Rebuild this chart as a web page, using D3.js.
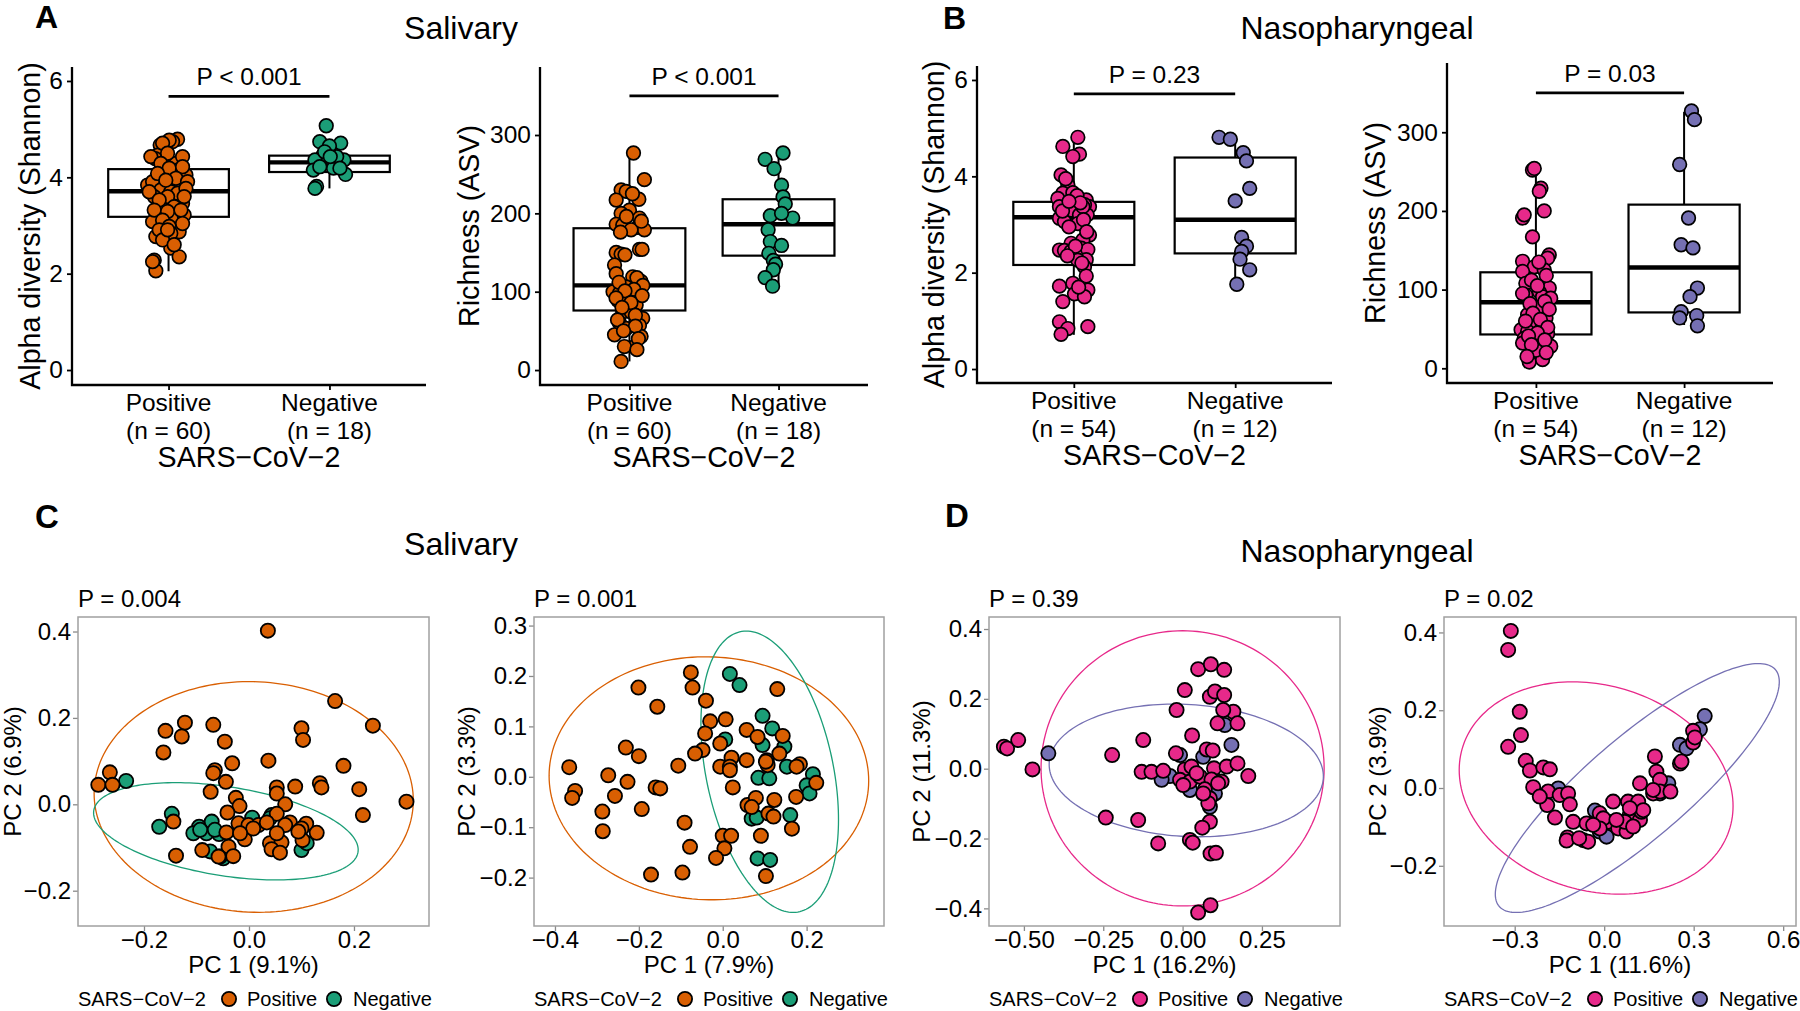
<!DOCTYPE html>
<html><head><meta charset="utf-8">
<script src="https://cdn.jsdelivr.net/npm/d3@7"></script>
<style>body{margin:0;background:#fff}svg{display:block}</style>
</head><body><svg id="c" width="1800" height="1011"></svg>
<script>
// ---------------- DATA ----------------
const groups = ["Positive", "Negative"];
const salN = ["(n = 60)", "(n = 18)"];
const nasN = ["(n = 54)", "(n = 12)"];
const ORANGE = "#D95F02", GREEN = "#1B9E77", PINK = "#E7298A", PURPLE = "#7570B3";

// box stats [lower whisker, Q1, median, Q3, upper whisker]
const salShanStats = [[2.05, 3.18, 3.71, 4.17, 4.79], [3.77, 4.11, 4.31, 4.45, 4.71]];
const salRichStats = [[11, 76, 108, 181, 277], [107, 146, 186, 218, 277]];
const nasShanStats = [[0.71, 2.16, 3.15, 3.47, 4.82], [1.78, 2.40, 3.10, 4.39, 4.82]];
const nasRichStats = [[8, 43, 84, 122, 252], [55, 71, 128, 208, 326]];

const boxPLabels = ["P < 0.001", "P < 0.001", "P = 0.23", "P = 0.03"];
const sigBarY = [5.68, 350, 5.71, 350];

// jittered points [value, horizontal jitter (category units)]
const salShanPos = [[4.79,.056],[4.74,.025],[4.67,-.052],[4.59,-.021],[4.46,-.068],[4.39,-.083],[4.29,.046],[4.15,.056],[4.05,.108],[3.84,-.13],[3.91,-.099],[3.74,-.048],[3.81,.077],[3.70,.014],[3.60,-.089],[3.46,.087],[3.45,-.027],[3.56,.035],[3.18,-.068],[3.15,.025],[3.22,.097],[3.08,-.099],[2.87,.066],[2.77,-.079],[2.73,-.027],[2.53,.014],[2.35,.066],[2.28,-.089],[2.06,-.079],[4.77,.004],[4.71,-.037],[4.50,-.006],[4.43,.087],[4.43,-.11],[4.29,-.048],[4.19,.004],[4.22,.087],[4.08,-.068],[3.98,.046],[3.94,-.017],[3.91,.118],[3.70,-.12],[3.67,.056],[3.77,.108],[3.60,-.006],[3.53,-.058],[3.60,.097],[3.39,.035],[3.32,-.089],[3.29,-.006],[3.32,.077],[3.11,-.037],[3.04,.087],[2.98,.004],[2.91,-.058],[2.84,.014],[2.70,-.037],[2.60,.035],[2.25,-.099],[2.91,-.006]];
const salShanNeg = [[5.07,-.02],[4.71,.07],[4.74,-.06],[4.65,0],[4.46,-.04],[4.36,-.09],[4.36,.09],[4.29,.025],[4.15,-.1],[4.19,.025],[4.06,.1],[4.22,-.06],[4.43,.045],[3.81,-.08],[3.77,-.09],[4.53,-.03],[4.19,.065],[4.43,.005]];
const salRichPos = [[277,.027],[243,.10],[230,-.056],[228,-.022],[217,-.089],[218,.063],[204,0],[200,-.056],[194,.067],[186,-.089],[185,-.045],[182,.056],[179,.10],[179,.011],[150,-.089],[148,-.056],[154,.067],[154,.085],[134,-.10],[123,-.089],[119,.022],[113,.078],[106,-.022],[100,-.11],[98,-.067],[98,.056],[89,-.078],[91,-.022],[83,.045],[74,-.045],[74,.011],[66,.089],[60,-.067],[57,.067],[53,-.022],[45,-.10],[43,.078],[30,.034],[30,-.034],[11,-.056],[225,.02],[196,-.02],[190,.08],[176,-.06],[147,-.03],[118,.05],[112,-.07],[108,.09],[103,.03],[101,-.03],[95,.085],[92,-.09],[86,.01],[80,-.05],[70,.04],[64,-.08],[56,.04],[50,-.04],[40,.06],[26,.05]];
const salRichNeg = [[269,-.09],[277,.03],[257,-.03],[236,.02],[221,.03],[212,.045],[197,-.055],[194,.095],[179,-.07],[164,-.055],[159,.02],[149,-.065],[140,-.035],[135,-.02],[128,-.035],[118,-.09],[107,-.04],[200,.02]];
const nasShanPos = [[4.81,.025],[4.62,-.068],[4.46,.035],[4.41,-.006],[4.03,-.079],[3.82,-.037],[3.65,-.068],[3.66,-.006],[3.54,-.099],[3.51,.077],[3.37,.097],[3.41,.066],[3.37,-.089],[3.30,-.017],[3.20,.035],[3.20,.083],[3.13,-.089],[3.06,-.058],[3.02,.025],[2.78,.097],[2.68,.056],[2.61,-.017],[2.47,-.089],[2.46,-.058],[2.44,-.017],[2.51,.046],[2.48,.087],[2.27,.077],[2.26,.025],[2.12,.066],[1.93,.077],[1.72,-.089],[1.78,-.006],[1.64,.087],[1.56,.004],[1.50,.066],[1.40,-.068],[0.98,-.089],[0.84,-.037],[0.88,.087],[0.72,-.079],[3.37,.056],[3.95,-.05],[3.60,.02],[3.45,.04],[3.28,-.07],[3.10,.06],[2.95,-.03],[2.85,.08],[2.55,.01],[2.35,-.04],[2.20,.05],[1.70,.03],[3.48,-.03]];
const nasShanNeg = [[4.81,-.1],[4.77,-.03],[4.49,.05],[4.32,.07],[3.75,.09],[3.49,0],[2.73,.04],[2.55,.07],[2.44,.04],[2.28,.03],[2.06,.09],[1.76,.01]];
const nasRichPos = [[252,-.023],[254,-.011],[229,.034],[225,.023],[200,.056],[191,-.09],[195,-.079],[167,-.023],[136,-.09],[144,.09],[140,.079],[129,-.011],[125,.056],[123,-.09],[108,-.068],[102,.09],[97,.023],[93,-.068],[91,.045],[89,.10],[78,.034],[68,-.056],[64,.068],[57,-.034],[54,.045],[49,-.10],[47,-.056],[44,.079],[38,-.079],[32,.034],[25,-.011],[28,.10],[8,-.045],[11,.045],[23,0],[32,-.09],[135,.02],[118,.07],[112,-.03],[105,.01],[95,-.09],[85,.06],[82,-.04],[75,.09],[70,-.02],[62,.03],[60,-.07],[52,.08],[45,.01],[41,-.05],[36,.06],[30,-.03],[20,.07],[15,-.06]];
const nasRichNeg = [[327,.05],[316,.07],[259,-.03],[191,.03],[157,-.02],[153,.06],[102,.09],[91,.04],[72,-.02],[67,.085],[64,-.03],[54,.09]];

// PCoA
const pcoaPLabels = ["P = 0.004", "P = 0.001", "P = 0.39", "P = 0.02"];
const pc1Labels = ["PC 1 (9.1%)", "PC 1 (7.9%)", "PC 1 (16.2%)", "PC 1 (11.6%)"];
const pc2Labels = ["PC 2 (6.9%)", "PC 2 (3.3%)", "PC 2 (11.3%)", "PC 2 (3.9%)"];

const salPcoaAPos = [[0.036,0.402],[0.164,0.239],[0.236,0.182],[-0.122,0.189],[-0.159,0.170],[-0.128,0.157],[-0.068,0.184],[-0.046,0.145],[0.100,0.176],[0.103,0.149],[-0.163,0.120],[0.037,0.101],[-0.032,0.095],[-0.065,0.079],[-0.068,0.072],[0.180,0.089],[-0.265,0.074],[-0.287,0.045],[-0.260,0.045],[-0.044,0.052],[0.135,0.049],[0.138,0.039],[0.088,0.041],[0.053,0.039],[0.053,0.025],[0.210,0.035],[-0.073,0.029],[0.300,0.006],[-0.025,0.015],[-0.018,-0.004],[0.069,0.000],[-0.041,-0.019],[0.217,-0.025],[-0.144,-0.040],[-0.139,-0.119],[0.053,-0.022],[-0.020,-0.044],[-0.001,-0.048],[0.018,-0.048],[0.034,-0.042],[0.078,-0.042],[0.109,-0.045],[0.100,-0.056],[0.129,-0.066],[-0.008,-0.081],[-0.039,-0.098],[-0.030,-0.120],[-0.058,-0.121],[-0.089,-0.106],[0.040,-0.090],[0.062,-0.088],[0.043,-0.104],[0.059,-0.112],[0.102,-0.083],[0.094,-0.063],[-0.043,-0.065],[0.008,-0.056],[0.069,-0.048],[-0.017,-0.067],[0.053,-0.067]];
const salPcoaANeg = [[-0.234,0.054],[-0.147,-0.022],[-0.171,-0.052],[-0.095,-0.052],[-0.106,-0.067],[-0.081,-0.067],[-0.071,-0.040],[-0.057,-0.069],[-0.074,-0.109],[-0.049,-0.125],[0.006,-0.031],[0.043,-0.025],[0.100,-0.106],[0.110,-0.090],[-0.093,-0.059],[-0.065,-0.059],[-0.055,-0.121],[0.040,-0.032]];
const salPcoaBPos = [[-0.076,0.207],[-0.072,0.177],[-0.201,0.177],[0.130,0.174],[-0.156,0.139],[-0.040,0.151],[-0.030,0.110],[0.007,0.114],[-0.042,0.086],[0.057,0.093],[0.083,0.079],[0.143,0.081],[-0.006,0.066],[-0.231,0.058],[-0.200,0.041],[-0.048,0.053],[-0.066,0.046],[0.021,0.038],[0.057,0.033],[0.135,0.046],[0.105,0.033],[0.107,0.023],[-0.106,0.022],[-0.006,0.020],[0.017,0.020],[0.184,0.025],[0.176,0.020],[-0.366,0.019],[-0.273,0.003],[-0.227,-0.010],[0.223,-0.012],[-0.352,-0.028],[-0.359,-0.042],[-0.257,-0.038],[-0.160,-0.021],[-0.149,-0.023],[0.024,-0.021],[-0.193,-0.064],[-0.287,-0.069],[-0.286,-0.108],[0.059,-0.056],[0.079,-0.042],[0.123,-0.046],[0.175,-0.040],[0.109,-0.073],[0.121,-0.079],[-0.091,-0.091],[0.165,-0.103],[0.091,-0.117],[0.000,-0.117],[0.020,-0.117],[-0.078,-0.139],[0.004,-0.142],[-0.016,-0.161],[-0.171,-0.194],[-0.096,-0.190],[0.103,-0.197],[0.103,0.030],[0.069,-0.060],[0.017,0.013]];
const salPcoaBNeg = [[0.017,0.204],[0.040,0.182],[0.095,0.121],[0.118,0.096],[0.006,0.074],[0.095,0.063],[0.147,0.060],[0.153,0.020],[0.215,0.005],[0.200,-0.017],[0.207,-0.033],[0.085,-0.002],[0.111,-0.003],[0.069,-0.083],[0.081,-0.081],[0.161,-0.076],[0.083,-0.162],[0.113,-0.165]];
const nasPcoaAPos = [[-0.563,0.063],[-0.553,0.058],[-0.518,0.082],[-0.473,-0.002],[-0.222,0.039],[-0.124,0.082],[-0.242,-0.140],[-0.140,-0.147],[-0.077,-0.214],[-0.019,0.168],[0.007,0.225],[0.049,0.285],[0.089,0.299],[0.131,0.283],[0.086,0.206],[0.102,0.221],[0.131,0.211],[0.160,0.163],[0.173,0.130],[0.110,0.130],[0.030,0.095],[-0.021,0.044],[0.076,0.055],[0.095,0.052],[-0.129,-0.009],[-0.098,-0.009],[-0.061,-0.006],[0.007,-0.002],[0.028,0.006],[0.099,0.001],[0.139,0.006],[0.173,0.015],[0.207,-0.021],[-0.008,-0.032],[0.023,-0.037],[0.055,-0.023],[0.091,-0.031],[0.123,-0.037],[0.070,-0.059],[0.086,-0.085],[0.081,-0.099],[0.086,-0.152],[0.062,-0.169],[0.023,-0.204],[0.032,-0.212],[0.088,-0.243],[0.105,-0.241],[0.049,-0.412],[0.088,-0.391],[0.002,-0.047],[0.065,-0.071],[0.112,-0.042],[0.128,0.168],[0.044,-0.013]];
const nasPcoaANeg = [[-0.423,0.044],[-0.040,-0.021],[-0.066,-0.032],[0.018,-0.021],[-0.008,0.039],[0.065,0.034],[0.133,0.125],[0.154,0.068],[0.086,-0.109],[0.023,-0.061],[0.070,-0.071],[0.102,-0.071]];
const nasPcoaBPos = [[-0.313,0.404],[-0.322,0.355],[-0.283,0.196],[-0.279,0.136],[-0.322,0.106],[-0.263,0.070],[-0.249,0.045],[-0.204,0.053],[-0.182,0.048],[-0.238,0.002],[-0.188,-0.009],[-0.191,-0.044],[-0.165,-0.076],[-0.149,-0.018],[-0.121,-0.014],[-0.115,-0.042],[-0.104,-0.087],[-0.059,-0.091],[-0.054,-0.138],[-0.123,-0.127],[-0.126,-0.135],[0.030,-0.035],[0.013,-0.087],[0.047,-0.104],[0.075,-0.112],[0.080,-0.035],[0.086,-0.069],[0.114,-0.035],[0.120,-0.082],[0.125,-0.061],[0.131,-0.057],[0.120,0.012],[0.170,0.081],[0.175,0.042],[0.187,0.021],[0.164,-0.014],[0.187,-0.009],[0.222,-0.009],[0.254,0.063],[0.259,0.068],[0.298,0.117],[0.298,0.147],[0.304,0.130],[-0.015,-0.065],[-0.003,-0.078],[-0.084,-0.129],[0.069,-0.087],[-0.015,-0.104],[0.041,-0.082],[0.086,-0.052],[0.164,-0.005],[-0.216,-0.022],[-0.037,-0.095],[0.097,-0.099]];
const nasPcoaBNeg = [[-0.154,-0.001],[-0.031,-0.058],[-0.015,-0.112],[0.030,-0.095],[-0.070,-0.134],[0.254,0.111],[0.276,0.102],[0.337,0.185],[0.321,0.151],[0.215,0.012],[0.187,-0.014],[0.008,-0.125]];

// ellipses [cx, cy, x half-extent, y half-extent, correlation]
const salEllAPos = [0.009, 0.017, 0.304, 0.267, -0.03];
const salEllANeg = [-0.044, -0.0625, 0.252, 0.1126, -0.38];
const salEllBPos = [-0.033, -0.003, 0.381, 0.241, -0.02];
const salEllBNeg = [0.112, 0.010, 0.164, 0.279, -0.34];
const nasEllAPos = [0.0, 0.001, 0.446, 0.394, 0.0];
const nasEllANeg = [0.0116, -0.005, 0.432, 0.19, -0.09];
const nasEllBPos = [-0.027, 0.0, 0.459, 0.273, -0.17];
const nasEllBNeg = [0.111, 0.0, 0.476, 0.32, 0.853];

// ---------------- DRAW ----------------
const FONT = '"Liberation Sans", Arial, Helvetica, sans-serif';
const svg = d3.select("#c");
function txt(g, x, y, s, size, anchor, weight) {
  return g.append("text").attr("x", x).attr("y", y).attr("font-size", size)
    .attr("text-anchor", anchor || "start").attr("font-weight", weight || "normal")
    .attr("fill", "#000").style("font-family", FONT).text(s);
}

function boxPanel(o) {
  const g = svg.append("g");
  const x = d3.scaleLinear().domain([0.4, 2.6]).range([o.x0, o.x1]);
  const y = d3.scaleLinear().domain(o.yDom).range([o.y1, o.y0]);
  const ay = g.append("g").attr("transform", `translate(${o.x0},0)`)
    .call(d3.axisLeft(y).tickValues(o.ticks).tickSize(5).tickPadding(4).tickFormat(d3.format("d")));
  ay.attr("font-family", FONT).attr("font-size", 24.5);
  ay.select(".domain").remove();
  ay.selectAll(".tick line").attr("stroke", "#000").attr("stroke-width", 1.8);
  ay.selectAll(".tick text").attr("fill", "#000");
  const ax = g.append("g").attr("transform", `translate(0,${o.y1})`)
    .call(d3.axisBottom(x).tickValues([1, 2]).tickSize(5).tickFormat(() => ""));
  ax.select(".domain").remove();
  ax.selectAll(".tick line").attr("stroke", "#000").attr("stroke-width", 1.8);
  g.append("path").attr("d", `M${o.x0},${o.y0}V${o.y1}H${o.x1}`)
    .attr("fill", "none").attr("stroke", "#000").attr("stroke-width", 2.3);
  groups.forEach((c, i) => {
    txt(g, x(i + 1), o.y1 + 26, c, 24.5, "middle");
    txt(g, x(i + 1), o.y1 + 54, o.nLab[i], 24.5, "middle");
  });
  txt(g, (o.x0 + o.x1) / 2, o.y1 + 82, "SARS−CoV−2", 28.6, "middle");
  g.append("text").attr("transform", `translate(${o.titleX},${(o.y0 + o.y1) / 2}) rotate(-90)`)
    .attr("dy", "0.35em").attr("text-anchor", "middle").attr("font-size", 28.6)
    .style("font-family", FONT).text(o.title);
  const hw = x(1.375) - x(1);
  o.stats.forEach((s, i) => {
    const cx = x(i + 1);
    g.append("line").attr("x1", cx).attr("x2", cx).attr("y1", y(s[0])).attr("y2", y(s[1])).attr("stroke", "#000").attr("stroke-width", 2);
    g.append("line").attr("x1", cx).attr("x2", cx).attr("y1", y(s[3])).attr("y2", y(s[4])).attr("stroke", "#000").attr("stroke-width", 2);
    g.append("rect").attr("x", cx - hw).attr("width", 2 * hw).attr("y", y(s[3])).attr("height", y(s[1]) - y(s[3]))
      .attr("fill", "#fff").attr("stroke", "#000").attr("stroke-width", 2.2);
    g.append("line").attr("x1", cx - hw).attr("x2", cx + hw).attr("y1", y(s[2])).attr("y2", y(s[2])).attr("stroke", "#000").attr("stroke-width", 4.4);
  });
  o.data.forEach((arr, i) => {
    g.append("g").selectAll("circle").data(arr).join("circle")
      .attr("cx", d => x(i + 1 + d[1])).attr("cy", d => y(d[0])).attr("r", 6.8)
      .attr("fill", o.cols[i]).attr("stroke", "#000").attr("stroke-width", 1.7);
  });
  g.append("line").attr("x1", x(1)).attr("x2", x(2)).attr("y1", y(o.sig)).attr("y2", y(o.sig)).attr("stroke", "#000").attr("stroke-width", 2.7);
  txt(g, x(1.5), y(o.sig) - 11, o.pLab, 24.5, "middle");
}

function ellipsePts(e) {
  const dl = Math.acos(e[4]);
  return d3.range(0, 360, 2).map(t => {
    const a = t * Math.PI / 180;
    return [e[0] + e[2] * Math.cos(a), e[1] + e[3] * Math.cos(a - dl)];
  });
}

function pcoaPanel(o) {
  const g = svg.append("g");
  const x = d3.scaleLinear().domain(o.xDom).range([o.x0, o.x1]);
  const y = d3.scaleLinear().domain(o.yDom).range([o.y1, o.y0]);
  g.append("clipPath").attr("id", "cp" + o.id).append("rect")
    .attr("x", o.x0).attr("y", o.y0).attr("width", o.x1 - o.x0).attr("height", o.y1 - o.y0);
  const ax = g.append("g").attr("transform", `translate(0,${o.y1})`)
    .call(d3.axisBottom(x).tickValues(o.xt).tickSize(5).tickPadding(0).tickFormat(d3.format(o.xf)));
  const ay = g.append("g").attr("transform", `translate(${o.x0},0)`)
    .call(d3.axisLeft(y).tickValues(o.yt).tickSize(5).tickPadding(2).tickFormat(d3.format(".1f")));
  [ax, ay].forEach(a => {
    a.attr("font-family", FONT).attr("font-size", 24);
    a.select(".domain").remove();
    a.selectAll(".tick line").attr("stroke", "#8a8a8a").attr("stroke-width", 1.3);
    a.selectAll(".tick text").attr("fill", "#000");
  });
  g.append("rect").attr("x", o.x0).attr("y", o.y0).attr("width", o.x1 - o.x0).attr("height", o.y1 - o.y0)
    .attr("fill", "none").attr("stroke", "#a0a0a0").attr("stroke-width", 1.5);
  const pg = g.append("g").attr("clip-path", `url(#cp${o.id})`);
  const line = d3.line().x(d => x(d[0])).y(d => y(d[1])).curve(d3.curveLinearClosed);
  o.ells.forEach((e, i) => {
    pg.append("path").attr("d", line(ellipsePts(e))).attr("fill", "none")
      .attr("stroke", o.cols[i]).attr("stroke-width", 1.3);
  });
  [1, 0].forEach(i => {
    g.append("g").selectAll("circle").data(o.pts[i]).join("circle")
      .attr("cx", d => x(d[0])).attr("cy", d => y(d[1])).attr("r", 7.1)
      .attr("fill", o.cols[i]).attr("stroke", "#000").attr("stroke-width", 1.8);
  });
  txt(g, o.x0, 607, o.pLab, 24);
  txt(g, (o.x0 + o.x1) / 2, 973, o.xTitle, 24, "middle");
  g.append("text").attr("transform", `translate(${o.titleX},${(o.y0 + o.y1) / 2}) rotate(-90)`)
    .attr("dy", "0.35em").attr("text-anchor", "middle").attr("font-size", 24)
    .style("font-family", FONT).text(o.yTitle);
  // legend
  txt(g, o.x0, 1006, "SARS−CoV−2", 20);
  const offs = [[151, 169], [256, 275]];
  groups.forEach((c, i) => {
    g.append("circle").attr("cx", o.x0 + offs[i][0]).attr("cy", 999).attr("r", 7.1)
      .attr("fill", o.cols[i]).attr("stroke", "#000").attr("stroke-width", 1.8);
    txt(g, o.x0 + offs[i][1], 1006, c, 20);
  });
}

// titles and panel letters
const tg = svg.append("g");
txt(tg, 35, 28, "A", 32, "start", "bold");
txt(tg, 943, 29, "B", 32, "start", "bold");
txt(tg, 35, 528, "C", 33, "start", "bold");
txt(tg, 945, 527, "D", 33, "start", "bold");
txt(tg, 461, 39, "Salivary", 32, "middle");
txt(tg, 1357, 39, "Nasopharyngeal", 32, "middle");
txt(tg, 461, 555, "Salivary", 32, "middle");
txt(tg, 1357, 562, "Nasopharyngeal", 32, "middle");

boxPanel({x0: 72, x1: 426, y0: 67, y1: 385, yDom: [-0.311, 6.29], ticks: [0, 2, 4, 6], title: "Alpha diversity (Shannon)", titleX: 30,
  data: [salShanPos, salShanNeg], stats: salShanStats, cols: [ORANGE, GREEN], nLab: salN, sig: sigBarY[0], pLab: boxPLabels[0]});
boxPanel({x0: 540, x1: 868, y0: 67, y1: 385, yDom: [-19.1, 386.8], ticks: [0, 100, 200, 300], title: "Richness (ASV)", titleX: 469,
  data: [salRichPos, salRichNeg], stats: salRichStats, cols: [ORANGE, GREEN], nLab: salN, sig: sigBarY[1], pLab: boxPLabels[1]});
boxPanel({x0: 977, x1: 1332, y0: 66, y1: 383, yDom: [-0.29, 6.29], ticks: [0, 2, 4, 6], title: "Alpha diversity (Shannon)", titleX: 934,
  data: [nasShanPos, nasShanNeg], stats: nasShanStats, cols: [PINK, PURPLE], nLab: nasN, sig: sigBarY[2], pLab: boxPLabels[2]});
boxPanel({x0: 1447, x1: 1773, y0: 63, y1: 383, yDom: [-18.7, 388], ticks: [0, 100, 200, 300], title: "Richness (ASV)", titleX: 1375,
  data: [nasRichPos, nasRichNeg], stats: nasRichStats, cols: [PINK, PURPLE], nLab: nasN, sig: sigBarY[3], pLab: boxPLabels[3]});

pcoaPanel({id: 1, x0: 78, x1: 429, y0: 617, y1: 926, xDom: [-0.3257, 0.3429], yDom: [-0.2817, 0.4336], xt: [-0.2, 0, 0.2], yt: [-0.2, 0, 0.2, 0.4], xf: ".1f",
  pts: [salPcoaAPos, salPcoaANeg], ells: [salEllAPos, salEllANeg], cols: [ORANGE, GREEN], pLab: pcoaPLabels[0], xTitle: pc1Labels[0], yTitle: pc2Labels[0], titleX: 13});
pcoaPanel({id: 2, x0: 534, x1: 884, y0: 617, y1: 926, xDom: [-0.450, 0.3845], yDom: [-0.296, 0.317], xt: [-0.4, -0.2, 0, 0.2], yt: [-0.2, -0.1, 0, 0.1, 0.2, 0.3], xf: ".1f",
  pts: [salPcoaBPos, salPcoaBNeg], ells: [salEllBPos, salEllBNeg], cols: [ORANGE, GREEN], pLab: pcoaPLabels[1], xTitle: pc1Labels[1], yTitle: pc2Labels[1], titleX: 467});
pcoaPanel({id: 3, x0: 989, x1: 1340, y0: 617, y1: 926, xDom: [-0.610, 0.496], yDom: [-0.4505, 0.4344], xt: [-0.5, -0.25, 0, 0.25], yt: [-0.4, -0.2, 0, 0.2, 0.4], xf: ".2f",
  pts: [nasPcoaAPos, nasPcoaANeg], ells: [nasEllAPos, nasEllANeg], cols: [PINK, PURPLE], pLab: pcoaPLabels[2], xTitle: pc1Labels[2], yTitle: pc2Labels[2], titleX: 922});
pcoaPanel({id: 4, x0: 1444, x1: 1796, y0: 617, y1: 926, xDom: [-0.537, 0.643], yDom: [-0.3548, 0.4397], xt: [-0.3, 0, 0.3, 0.6], yt: [-0.2, 0, 0.2, 0.4], xf: ".1f",
  pts: [nasPcoaBPos, nasPcoaBNeg], ells: [nasEllBPos, nasEllBNeg], cols: [PINK, PURPLE], pLab: pcoaPLabels[3], xTitle: pc1Labels[3], yTitle: pc2Labels[3], titleX: 1378});
</script>
</body></html>
